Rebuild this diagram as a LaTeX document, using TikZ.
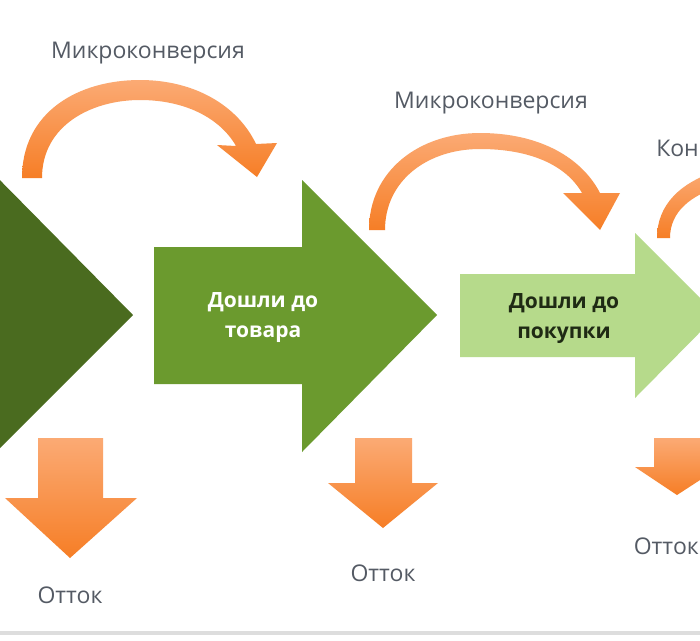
\documentclass[tikz,border=0pt]{standalone}
\usepackage{fontspec}
\setmainfont{Open Sans}
\usepackage{xcolor}
\definecolor{funnelDark}{HTML}{4A6B1F}
\definecolor{funnelMid}{HTML}{6B9A2E}
\definecolor{funnelLight}{HTML}{B6DA8B}
\definecolor{funnelInk}{HTML}{1F2A14}
\definecolor{flowLight}{HTML}{FBAA74}
\definecolor{flowDeep}{HTML}{F67E26}
\definecolor{labelGray}{HTML}{545A64}
\definecolor{rulerGray}{HTML}{DDDDDD}
\usepackage{tikz}
\usetikzlibrary{positioning}

\begin{document}
\begin{tikzpicture}[
  x=1pt, y=-1pt,
  label/.style={font=\fontsize{23}{28}\selectfont, text=labelGray, inner sep=0pt},
  boxtext/.style={font=\fontsize{21}{30}\selectfont\bfseries, align=center, inner sep=0pt},
  flow/.style={top color=flowLight, bottom color=flowDeep, draw=none},
]
\useasboundingbox (0,0) rectangle (700,640);
\fill[white] (0,0) rectangle (700,640);
\clip (0,0) rectangle (700,640);

% Funnel stages (big green arrows)
\fill[funnelDark] (-60,247) -- (-15,247) -- (-15,165) -- (133,315)
      -- (-15,463) -- (-15,385) -- (-60,385) -- cycle;
\fill[funnelMid] (154,247) -- (302,247) -- (302,180) -- (437,315)
      -- (302,452) -- (302,384) -- (154,384) -- cycle;
\fill[funnelLight] (460,274) -- (635,274) -- (635,233) -- (717,315)
      -- (635,398) -- (635,357) -- (460,357) -- cycle;

% Microconversion arcs
\shade[flow] (22,178) .. controls (22,112) and (78,80) .. (140,80)
      .. controls (195,80) and (238,106) .. (256,144) -- (277,143)
      -- (257,177) -- (217,145) -- (236,146)
      .. controls (220,118) and (185,100) .. (140,100)
      .. controls (92,100) and (42,125) .. (42,178) -- cycle;
\shade[flow] (369,230) .. controls (369,170) and (420,133) .. (480,133)
      .. controls (540,133) and (582,158) .. (600,193) -- (620,193)
      -- (600,230) -- (563,193) -- (582,193)
      .. controls (566,165) and (530,149) .. (480,149)
      .. controls (428,149) and (385,180) .. (385,230) -- cycle;
\shade[flow] (657,238) .. controls (657,205) and (680,182) .. (720,170)
      -- (724,185) .. controls (690,195) and (670,212) .. (670,238) -- cycle;

% Churn arrows
\shade[flow] (38,438) -- (103,438) -- (103,498) -- (137,498) -- (70,558)
      -- (5,498) -- (38,498) -- cycle;
\shade[flow] (355,438) -- (412,438) -- (412,483) -- (438,483) -- (383,528)
      -- (328,483) -- (355,483) -- cycle;
\shade[flow] (654,438) -- (701,438) -- (701,467) -- (720,467) -- (677,495)
      -- (635,467) -- (654,467) -- cycle;

% Bottom ruler
\fill[rulerGray] (0,631) rectangle (700,635);

% Texts
\node[boxtext, text=white] (goods) at (263,318) {Дошли до\\товара};
\node[boxtext, text=funnelInk] (buy) at (564,319) {Дошли до\\покупки};
\node[label] (micro1) at (148,53) {Микроконверсия};
\node[label] (micro2) at (491,103) {Микроконверсия};
\node[label, anchor=east] (conv) at (699,148) {Кон};
\node[label] (churn1) at (70,595) {Отток};
\node[label] (churn2) at (383,573) {Отток};
\node[label, anchor=east] (churn3) at (699,546) {Отток};

\end{tikzpicture}
\end{document}
